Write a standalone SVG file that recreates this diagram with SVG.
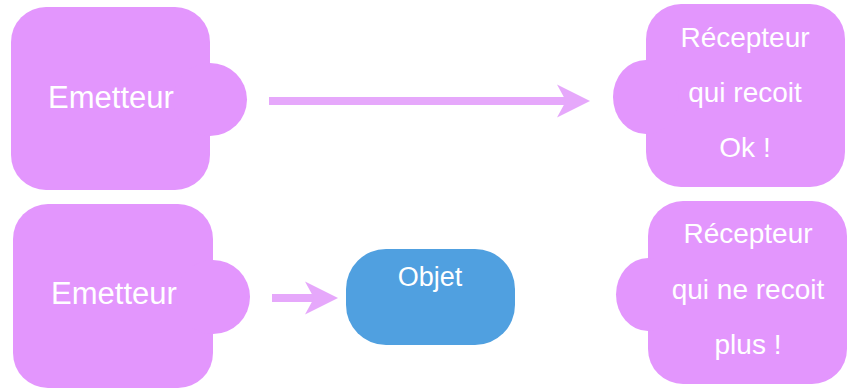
<svg xmlns="http://www.w3.org/2000/svg" width="855" height="390" viewBox="0 0 855 390">
  <style>
    .node { fill: #e396fd; }
    .obj { fill: #50a0e0; }
    .lbl { fill: #ffffff; font-family: "Liberation Sans", Arial, sans-serif; text-anchor: middle; }
    .big { font-size: 31px; }
    .med { font-size: 28px; }
    .sm { font-size: 27px; }
    .conn { stroke: #e6a8fb; stroke-width: 8; fill: none; }
  </style>
  <defs>
    <marker id="head" markerUnits="userSpaceOnUse" markerWidth="34" markerHeight="34" refX="9" refY="16.5" orient="auto" overflow="visible">
      <path d="M0,0 L33,16.5 L0,33 L9,16.5 Z" fill="#e6a8fb"/>
    </marker>
  </defs>
  <rect width="855" height="390" fill="#ffffff"/>

  <g id="connectors">
    <line class="conn" x1="269" y1="101" x2="566" y2="101" marker-end="url(#head)"/>
    <line class="conn" x1="272" y1="298" x2="314" y2="298" marker-end="url(#head)"/>
  </g>

  <g id="emetteur1">
    <rect class="node" x="11" y="7" width="199" height="183" rx="35"/>
    <ellipse class="node" cx="210" cy="99.5" rx="37" ry="36.5"/>
    <text class="lbl big" x="111" y="108">Emetteur</text>
  </g>

  <g id="recepteur1">
    <rect class="node" x="646" y="4" width="199" height="183" rx="35"/>
    <ellipse class="node" cx="646" cy="97" rx="33" ry="37"/>
    <text class="lbl med" x="745" y="47">Récepteur</text>
    <text class="lbl med" x="745" y="102">qui recoit</text>
    <text class="lbl med" x="745" y="157">Ok !</text>
  </g>

  <g id="emetteur2">
    <rect class="node" x="13" y="204" width="200" height="184" rx="35"/>
    <ellipse class="node" cx="213" cy="297" rx="37" ry="37"/>
    <text class="lbl big" x="114" y="304">Emetteur</text>
  </g>

  <g id="objet">
    <rect class="obj" x="346" y="249" width="169" height="96" rx="40"/>
    <text class="lbl sm" x="430" y="286">Objet</text>
  </g>

  <g id="recepteur2">
    <rect class="node" x="648" y="201" width="199" height="183" rx="35"/>
    <ellipse class="node" cx="648" cy="294.5" rx="32" ry="36.5"/>
    <text class="lbl med" x="748" y="243">Récepteur</text>
    <text class="lbl med" x="748" y="299">qui ne recoit</text>
    <text class="lbl med" x="748" y="354">plus !</text>
  </g>
</svg>
